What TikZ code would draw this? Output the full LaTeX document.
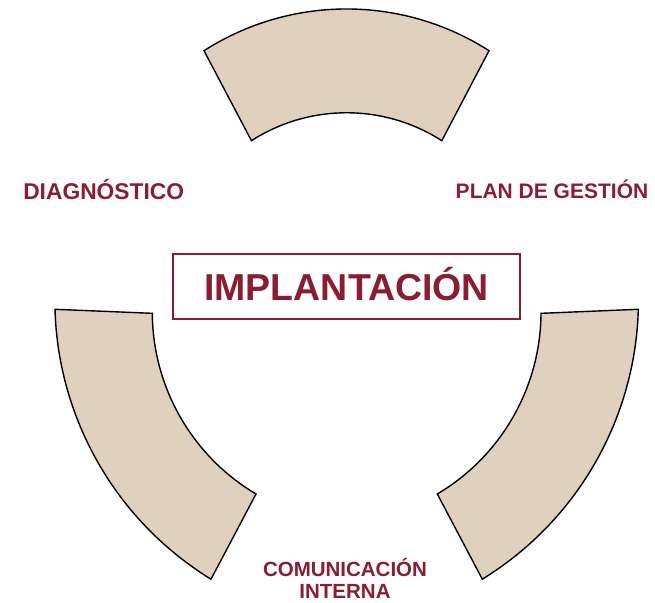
\documentclass[tikz,border=0pt]{standalone}
\usepackage{fontspec}
\setmainfont{Liberation Sans}
\definecolor{sand}{RGB}{224,209,191}
\definecolor{wine}{RGB}{139,29,50}
\begin{document}
\begin{tikzpicture}[x=1pt,y=1pt,
  sector/.style={fill=sand,draw=black,line width=1.4pt,line join=miter},
  wtext/.style={text=wine,inner sep=0pt,anchor=base}]
\useasboundingbox (0,0) rectangle (655,602);
% top sector
\draw[sector] (204,551.3) arc[start angle=122.63,end angle=57.37,radius=264.3pt]
  -- (441.8,461.3) arc[start angle=57.3,end angle=122.7,radius=176.2pt] -- cycle;
% left sector
\draw[sector] (55,292.7) arc[start angle=181.6,end angle=238.46,radius=327.4pt]
  -- (256,108) arc[start angle=239.33,end angle=180.38,radius=211.7pt] -- cycle;
% right sector
\draw[sector] (638.3,292.7) arc[start angle=-1.6,end angle=-58.46,radius=327.4pt]
  -- (437.3,108) arc[start angle=-59.33,end angle=-0.38,radius=211.7pt] -- cycle;
% labels
\node[wtext,font=\bfseries\fontsize{22.8}{27}\selectfont] (diag) at (103.7,402.7) {DIAGNÓSTICO};
\node[wtext,font=\bfseries\fontsize{21}{25}\selectfont] (plan) at (552,403) {PLAN DE GESTIÓN};
\node[wtext,font=\bfseries\fontsize{20.5}{24.6}\selectfont] (com) at (345,26) {COMUNICACIÓN};
\node[wtext,font=\bfseries\fontsize{20.5}{24.6}\selectfont] (int) at (345,4) {INTERNA};
\node[draw=wine,line width=1.5pt,minimum width=347pt,minimum height=65pt,
  text height=26.9pt,text depth=0pt,inner sep=0pt,text=wine,
  font=\bfseries\fontsize{37.5}{45}\selectfont] (impl) at (346.65,315.35) {IMPLANTACIÓN};
\end{tikzpicture}
\end{document}
